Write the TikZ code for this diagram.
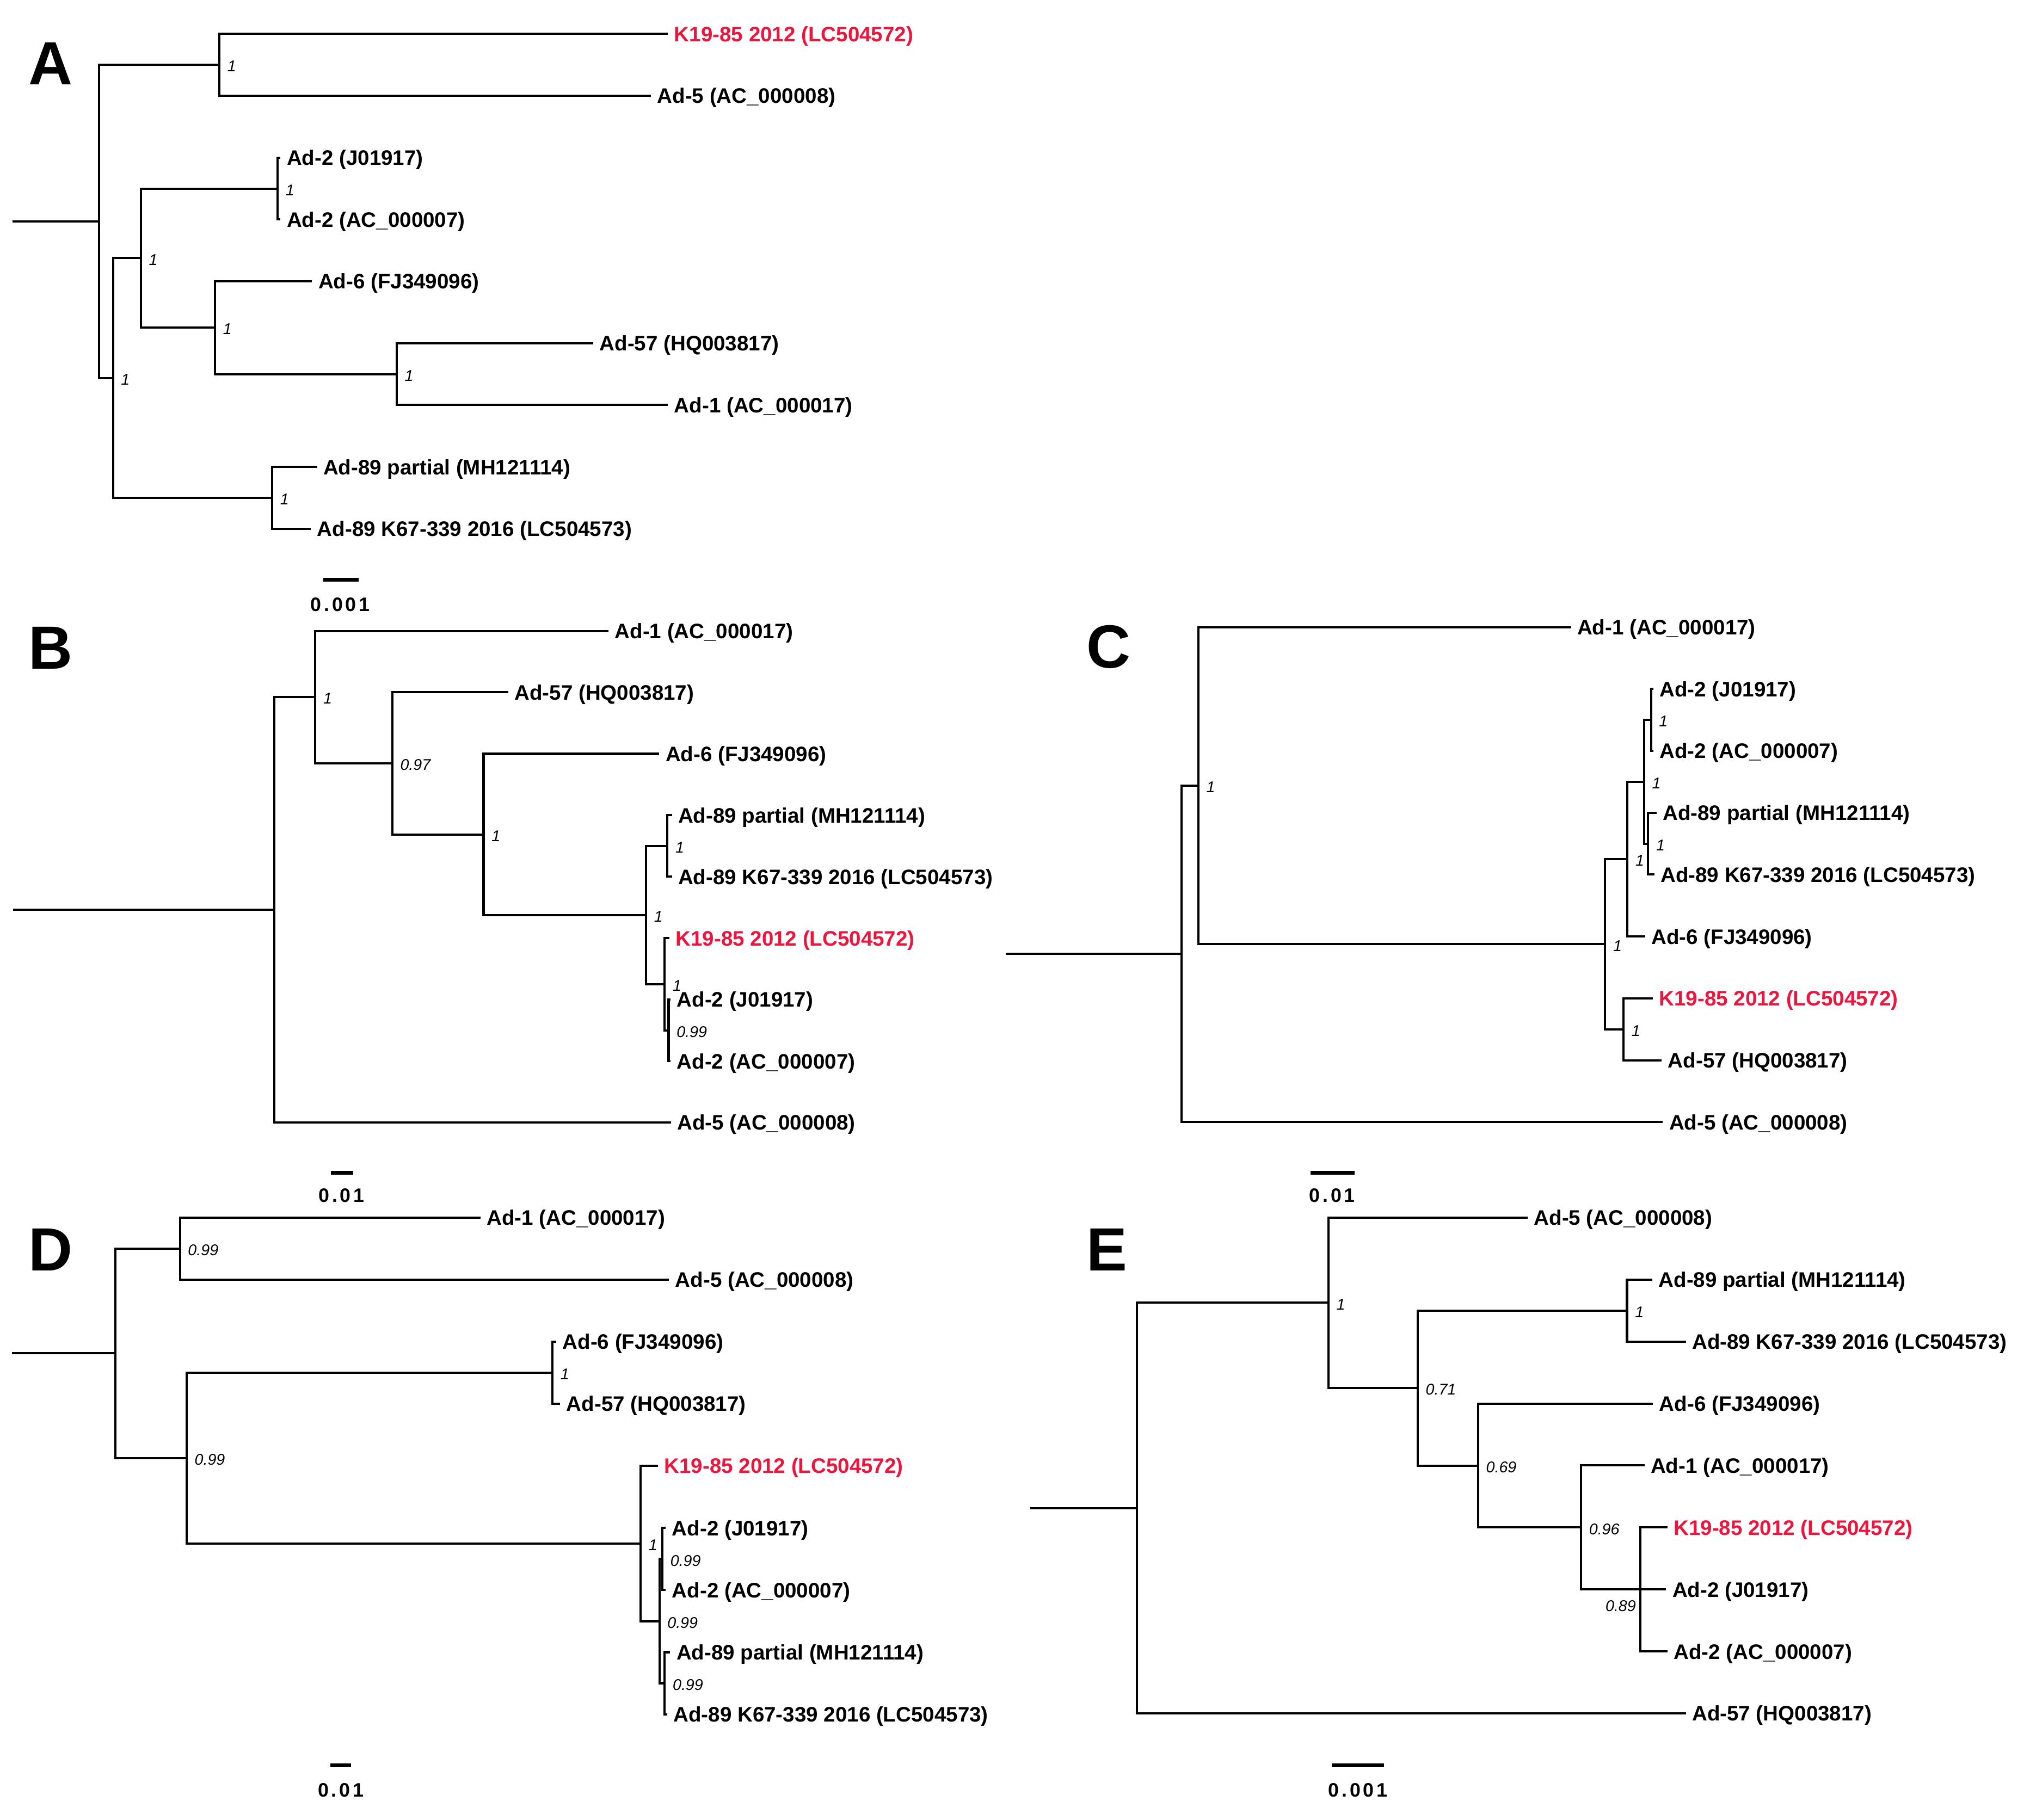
\documentclass[tikz,border=0pt]{standalone}
\usepackage{fontspec}
\setmainfont{Liberation Sans}
\definecolor{kred}{RGB}{237,20,61}
\newcommand\taxfont{\fontsize{16.15}{18}\selectfont\bfseries}
\newcommand\suppfont{\fontsize{12}{14}\selectfont\itshape}
\newcommand\panelfont{\fontsize{47}{50}\selectfont\bfseries}
\newcommand\sbfont{\fontsize{15}{17}\selectfont\bfseries}
\tikzset{
 br/.style={line width=1.7pt, line cap=rect},
 tax/.style={anchor=base west, inner sep=0pt, xshift=5.5pt, yshift=-5.8pt, font=\taxfont},
 taxr/.style={tax, text=kred},
 supp/.style={anchor=base west, inner sep=0pt, xshift=6pt, yshift=-5.3pt, font=\suppfont},
 panel/.style={inner sep=0pt, font=\panelfont},
 sbar/.style={line width=2.9pt},
 stxt/.style={inner sep=0pt, font=\sbfont}
}
% #1 name, #2 parent, #3 x, #4 y, #5 text, #6 style
\newcommand\tleaf[6]{%
 \coordinate (#1) at (#3,#4);
 \draw[br] (#2) |- (#1);
 \node[#6] (#1-t) at (#1) {#5};}
% #1 name, #2 parent, #3 x, #4 y, #5 support value
\newcommand\tnode[5]{%
 \coordinate (#1) at (#3,#4);
 \draw[br] (#2) |- (#1);
 \node[supp] (#1-s) at (#1) {#5};}
\begin{document}
\begin{tikzpicture}[x=1pt,y=-1pt]
\fill[white] (0,0) rectangle (1568,1402);
\useasboundingbox (0,0) rectangle (1568,1402);

% ---------------- Panel A ----------------
\node[panel] (pA) at (38.8,49.2) {A};
\coordinate (Ar) at (10.3,170.56);
\coordinate (A0) at (76.3,170.56);
\draw[br] (Ar) -- (A0);
\tnode{A1}{A0}{168.9}{49.95}{1}
\tleaf{Ak19}{A1}{513.6}{26.1}{K19-85 2012 (LC504572)}{taxr}
\tleaf{Aad5}{A1}{500.5}{73.8}{Ad-5 (AC\_000008)}{tax}
\tnode{A2}{A0}{87.0}{291.18}{1}
\tnode{A3}{A2}{108.5}{198.85}{1}
\tnode{A4}{A3}{213.8}{145.25}{1}
\tleaf{Aad2j}{A4}{215.2}{121.4}{Ad-2 (J01917)}{tax}
\tleaf{Aad2a}{A4}{215.2}{169.1}{Ad-2 (AC\_000007)}{tax}
\tnode{A5}{A3}{165.6}{252.45}{1}
\tleaf{Aad6}{A5}{239.5}{216.7}{Ad-6 (FJ349096)}{tax}
\tnode{A6}{A5}{305.5}{288.2}{1}
\tleaf{Aad57}{A6}{456.1}{264.4}{Ad-57 (HQ003817)}{tax}
\tleaf{Aad1}{A6}{513.6}{312.0}{Ad-1 (AC\_000017)}{tax}
\tnode{A7}{A2}{209.6}{383.5}{1}
\tleaf{Aad89p}{A7}{243.3}{359.7}{Ad-89 partial (MH121114)}{tax}
\tleaf{Aad89k}{A7}{238.6}{407.3}{Ad-89 K67-339 2016 (LC504573)}{tax}
\coordinate (sA1) at (248.9,446.7); \coordinate (sA2) at (276,446.7);
\draw[sbar] (sA1) -- (sA2);
\node[stxt] (sAt) at (262,465.6) {0\kern2pt.\kern2pt0\kern2pt0\kern2pt1};

% ---------------- Panel B ----------------
\node[panel] (pB) at (39,499.2) {B};
\coordinate (Br) at (10.9,700.85);
\coordinate (B0) at (211.2,700.85);
\draw[br] (Br) -- (B0);
\tnode{B1}{B0}{242.8}{537.0}{1}
\tleaf{Bad1}{B1}{467.8}{486.0}{Ad-1 (AC\_000017)}{tax}
\tnode{B2}{B1}{302.1}{588.05}{0.97}
\tleaf{Bad57}{B2}{390.6}{533.3}{Ad-57 (HQ003817)}{tax}
\tnode{B3}{B2}{372.4}{642.8}{1}
\tleaf{Bad6}{B3}{506.9}{580.7}{Ad-6 (FJ349096)}{tax}
\tnode{B4}{B3}{497.5}{704.95}{1}
\tnode{B5}{B4}{514.0}{651.7}{1}
\tleaf{Bad89p}{B5}{516.6}{628.0}{Ad-89 partial (MH121114)}{tax}
\tleaf{Bad89k}{B5}{516.6}{675.4}{Ad-89 K67-339 2016 (LC504573)}{tax}
\tnode{B6}{B4}{511.9}{758.2}{1}
\tleaf{Bk19}{B6}{514.7}{722.7}{K19-85 2012 (LC504572)}{taxr}
\tnode{B7}{B6}{514.9}{793.7}{0.99}
\tleaf{Bad2j}{B7}{515.6}{770.0}{Ad-2 (J01917)}{tax}
\tleaf{Bad2a}{B7}{515.6}{817.4}{Ad-2 (AC\_000007)}{tax}
\tleaf{Bad5}{B0}{515.8}{864.7}{Ad-5 (AC\_000008)}{tax}
\coordinate (sB1) at (254.7,903.5); \coordinate (sB2) at (272,903.5);
\draw[sbar] (sB1) -- (sB2);
\node[stxt] (sBt) at (263,921) {0\kern2pt.\kern2pt0\kern2pt1};

% ---------------- Panel C ----------------
\node[panel] (pC) at (853.7,498.5) {C};
\coordinate (Cr) at (775.4,734.8);
\coordinate (C0) at (909.8,734.8);
\draw[br] (Cr) -- (C0);
\tnode{C1}{C0}{922.9}{605.2}{1}
\tleaf{Cad1}{C1}{1209.0}{483.1}{Ad-1 (AC\_000017)}{tax}
\tnode{C2}{C1}{1236.2}{727.35}{1}
\tnode{C3}{C2}{1253.3}{661.8}{1}
\tnode{C5}{C3}{1266.1}{602.25}{1}
\tnode{C6}{C5}{1271.5}{554.6}{1}
\tleaf{Cad2j}{C6}{1272.5}{530.8}{Ad-2 (J01917)}{tax}
\tleaf{Cad2a}{C6}{1272.5}{578.4}{Ad-2 (AC\_000007)}{tax}
\tnode{C7}{C5}{1269.3}{649.9}{1}
\tleaf{Cad89p}{C7}{1274.9}{626.1}{Ad-89 partial (MH121114)}{tax}
\tleaf{Cad89k}{C7}{1273.2}{673.7}{Ad-89 K67-339 2016 (LC504573)}{tax}
\tleaf{Cad6}{C3}{1266.1}{721.4}{Ad-6 (FJ349096)}{tax}
\tnode{C4}{C2}{1250.3}{792.9}{1}
\tleaf{Ck19}{C4}{1272.1}{769.1}{K19-85 2012 (LC504572)}{taxr}
\tleaf{Cad57}{C4}{1278.9}{816.7}{Ad-57 (HQ003817)}{tax}
\tleaf{Cad5}{C0}{1279.8}{864.4}{Ad-5 (AC\_000008)}{tax}
\coordinate (sC1) at (1009.4,903.5); \coordinate (sC2) at (1043.2,903.5);
\draw[sbar] (sC1) -- (sC2);
\node[stxt] (sCt) at (1026,921) {0\kern2pt.\kern2pt0\kern2pt1};

% ---------------- Panel D ----------------
\node[panel] (pD) at (38.9,962.7) {D};
\coordinate (Dr) at (10.2,1042.5);
\coordinate (D0) at (88.9,1042.5);
\draw[br] (Dr) -- (D0);
\tnode{D1}{D0}{138.6}{961.8}{0.99}
\tleaf{Dad1}{D1}{369.2}{937.9}{Ad-1 (AC\_000017)}{tax}
\tleaf{Dad5}{D1}{514.4}{985.7}{Ad-5 (AC\_000008)}{tax}
\tnode{D2}{D0}{143.7}{1123.25}{0.99}
\tnode{D3}{D2}{425.5}{1057.5}{1}
\tleaf{Dad6}{D3}{427.6}{1033.6}{Ad-6 (FJ349096)}{tax}
\tleaf{Dad57}{D3}{430.6}{1081.4}{Ad-57 (HQ003817)}{tax}
\tnode{D4}{D2}{493.4}{1189.0}{1}
\tleaf{Dk19}{D4}{505.9}{1129.2}{K19-85 2012 (LC504572)}{taxr}
\tnode{D5}{D4}{507.8}{1248.8}{0.99}
\tnode{D6}{D5}{510.1}{1201.0}{0.99}
\tleaf{Dad2j}{D6}{511.9}{1177.1}{Ad-2 (J01917)}{tax}
\tleaf{Dad2a}{D6}{511.9}{1224.9}{Ad-2 (AC\_000007)}{tax}
\tnode{D7}{D5}{511.9}{1296.6}{0.99}
\tleaf{Dad89p}{D7}{515.3}{1272.7}{Ad-89 partial (MH121114)}{tax}
\tleaf{Dad89k}{D7}{513.0}{1320.5}{Ad-89 K67-339 2016 (LC504573)}{tax}
\coordinate (sD1) at (254.4,1359.9); \coordinate (sD2) at (270.2,1359.9);
\draw[sbar] (sD1) -- (sD2);
\node[stxt] (sDt) at (262.5,1379) {0\kern2pt.\kern2pt0\kern2pt1};

% ---------------- Panel E ----------------
\node[panel] (pE) at (852.5,962.7) {E};
\coordinate (Er) at (794.1,1161.75);
\coordinate (E0) at (875.5,1161.75);
\draw[br] (Er) -- (E0);
\tnode{E1}{E0}{1023.0}{1003.6}{1}
\tleaf{Ead5}{E1}{1175.7}{937.9}{Ad-5 (AC\_000008)}{tax}
\tnode{E2}{E1}{1091.8}{1069.25}{0.71}
\tnode{E3}{E2}{1253.0}{1009.55}{1}
\tleaf{Ead89p}{E3}{1271.7}{985.7}{Ad-89 partial (MH121114)}{tax}
\tleaf{Ead89k}{E3}{1297.5}{1033.4}{Ad-89 K67-339 2016 (LC504573)}{tax}
\tnode{E4}{E2}{1138.3}{1128.95}{0.69}
\tleaf{Ead6}{E4}{1272.2}{1081.2}{Ad-6 (FJ349096)}{tax}
\tnode{E5}{E4}{1217.6}{1176.7}{0.96}
\tleaf{Ead1}{E5}{1265.6}{1128.9}{Ad-1 (AC\_000017)}{tax}
\coordinate (E6) at (1263.1,1224.45);
\draw[br] (E5) |- (E6);
\node[anchor=base east, inner sep=0pt, font=\suppfont] (E6-s) at (1260,1241.3) {0.89};
\tleaf{Ek19}{E6}{1283.3}{1176.7}{K19-85 2012 (LC504572)}{taxr}
\tleaf{Ead2j}{E6}{1282.3}{1224.4}{Ad-2 (J01917)}{tax}
\tleaf{Ead2a}{E6}{1283.3}{1272.2}{Ad-2 (AC\_000007)}{tax}
\tleaf{Ead57}{E0}{1297.5}{1319.9}{Ad-57 (HQ003817)}{tax}
\coordinate (sE1) at (1025.6,1359.9); \coordinate (sE2) at (1066,1359.9);
\draw[sbar] (sE1) -- (sE2);
\node[stxt] (sEt) at (1045.8,1379) {0\kern2pt.\kern2pt0\kern2pt0\kern2pt1};
\end{tikzpicture}
\end{document}
